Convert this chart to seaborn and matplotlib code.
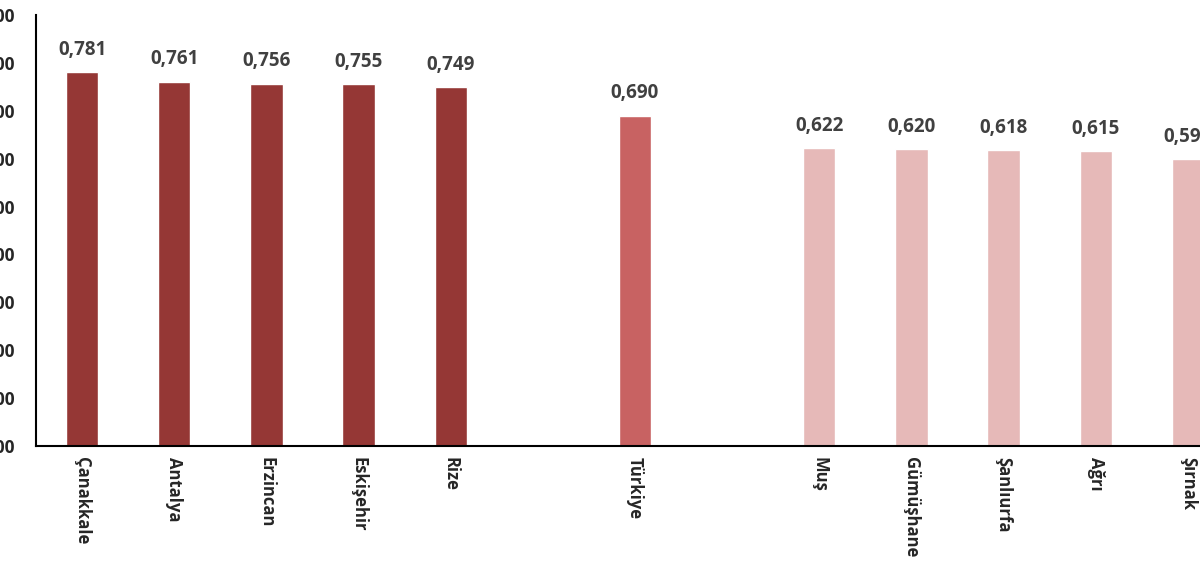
import pandas as pd
import numpy as np
import matplotlib
matplotlib.use('Agg')
import matplotlib.pyplot as plt
import seaborn as sns

# Data
provinces = ['Çanakkale', 'Antalya', 'Erzincan', 'Eskişehir', 'Rize',
             'Türkiye',
             'Muş', 'Gümüşhane', 'Şanlıurfa', 'Ağrı', 'Şırnak']
values = [0.781, 0.761, 0.756, 0.755, 0.749,
          0.690,
          0.622, 0.620, 0.618, 0.615, 0.599]
groups = ['top', 'top', 'top', 'top', 'top',
          'avg',
          'low', 'low', 'low', 'low', 'low']
# empty slots between the groups
slot_order = ['Çanakkale', 'Antalya', 'Erzincan', 'Eskişehir', 'Rize', ' ',
              'Türkiye', '  ',
              'Muş', 'Gümüşhane', 'Şanlıurfa', 'Ağrı', 'Şırnak']

df = pd.DataFrame({'Province': provinces, 'Value': values, 'Group': groups})
palette = {'top': '#953735', 'avg': '#C86262', 'low': '#E6B9B8'}

sns.set_style('white')
plt.rcParams['font.family'] = ['Open Sans', 'DejaVu Sans']

fig = plt.figure(figsize=(12, 5.73), dpi=100)
ax = fig.add_axes([0.03, 0.2216, 0.9983, 0.7522])

sns.barplot(data=df, x='Province', y='Value', hue='Group', palette=palette,
            order=slot_order, dodge=False, width=0.35, legend=False,
            saturation=1, ax=ax)

ax.set_xlim(-0.5, len(slot_order) - 0.5)
ax.set_ylim(0, 0.9)
ax.set_yticks(np.arange(0, 0.91, 0.1))
ax.set_yticklabels([f'{t:.3f}'.replace('.', ',') for t in np.arange(0, 0.91, 0.1)],
                   fontsize=12.5, fontweight='bold')
ax.tick_params(axis='y', length=0, pad=15)
ax.tick_params(axis='x', length=0, pad=8)
ax.set_xticks(range(len(slot_order)))
ax.set_xticklabels(slot_order, rotation=270, fontsize=12, fontweight='bold',
                   va='top', ha='center')
ax.set_xlabel('')
ax.set_ylabel('')

for s in ['top', 'right']:
    ax.spines[s].set_visible(False)
for s in ['left', 'bottom']:
    ax.spines[s].set_color('black')
    ax.spines[s].set_linewidth(1.5)

for p, v in zip(provinces, values):
    ax.annotate(f'{v:.3f}'.replace('.', ','), (slot_order.index(p), v),
                xytext=(0, 9), textcoords='offset points', ha='center', va='bottom',
                fontsize=13.5, fontweight='bold', color='#404040')

fig.savefig('out.png', dpi=100)
